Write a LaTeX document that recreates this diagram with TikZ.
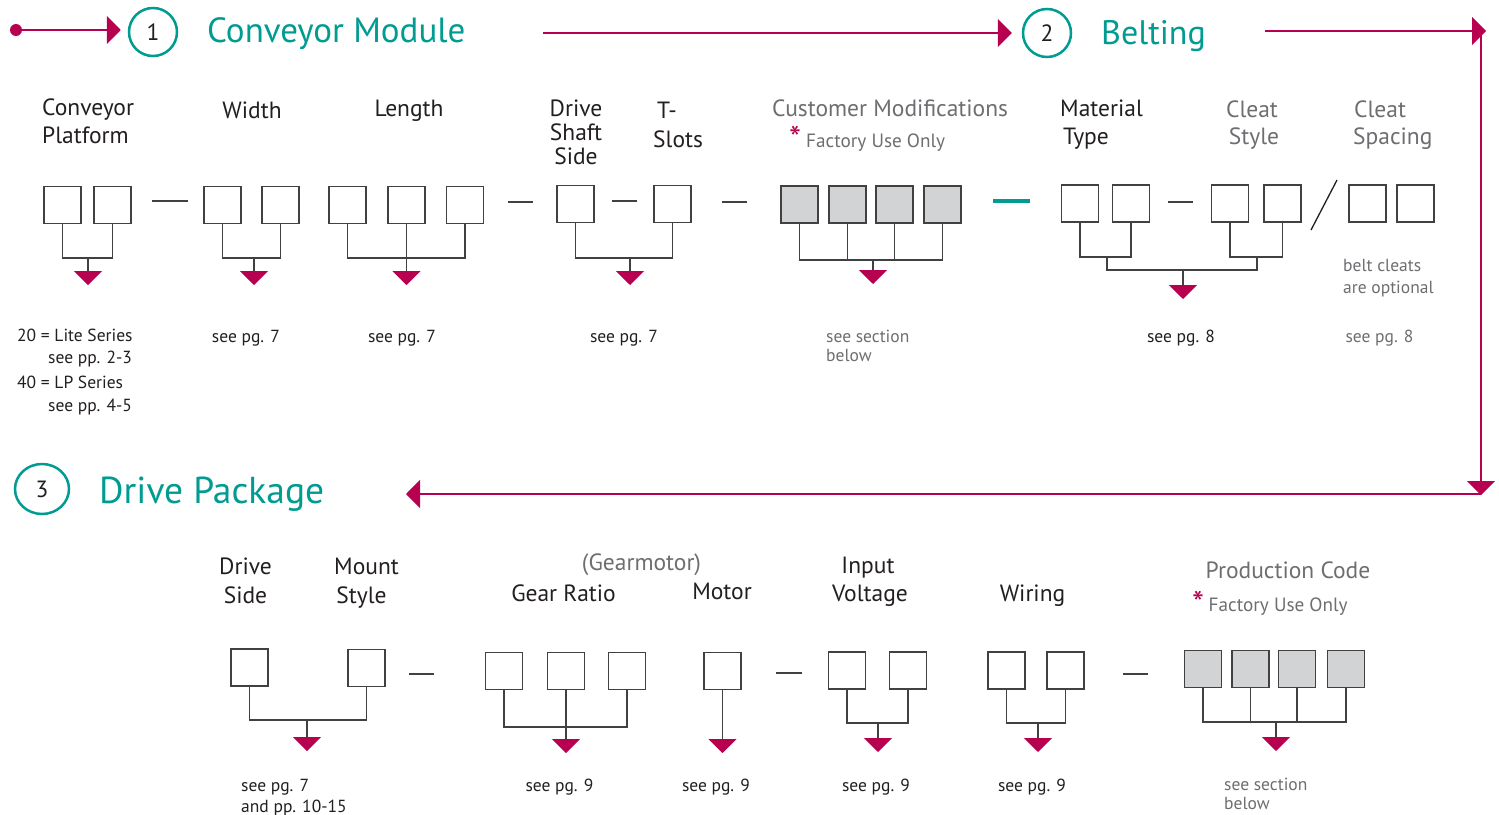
\documentclass[tikz,border=0pt]{standalone}
\usepackage{fontspec}
\setmainfont{PT Sans}
\usetikzlibrary{arrows.meta,calc,shapes.geometric}
\definecolor{teal1}{RGB}{0,156,145}
\definecolor{mag}{RGB}{184,0,80}
\definecolor{ink}{RGB}{35,31,32}
\definecolor{gry}{RGB}{109,110,113}
\definecolor{edge}{RGB}{65,64,66}
\definecolor{fillg}{RGB}{209,211,212}
\newcommand\ttlf{\fontsize{35}{40}\selectfont}
\newcommand\labf{\fontsize{23.5}{27}\selectfont}
\newcommand\notef{\fontsize{17.5}{21}\selectfont}
\newcommand\fuof{\fontsize{19.2}{23}\selectfont}
\newcommand\astf{\fontsize{34}{36}\selectfont}
\begin{document}
\begin{tikzpicture}[x=1pt,y=-1pt,
 box/.style={draw=edge,line width=1.6pt,minimum size=37pt,inner sep=0pt,outer sep=0pt,fill=white},
 gbox/.style={box,fill=fillg},
 brk/.style={draw=edge,line width=1.5pt},
 sepline/.style={draw=edge,line width=1.5pt},
 down/.style={draw=edge,line width=1.5pt,-{Triangle[width=28pt,length=14pt,color=mag]}},
 flow/.style={draw=mag,line width=2pt,-{Triangle[width=28pt,length=14pt]}},
 num/.style={circle,draw=teal1,line width=2.5pt,minimum size=48pt,inner sep=0pt,font=\labf,text=ink},
 ttl/.style={font=\ttlf,text=teal1,anchor=base west,inner sep=0pt},
 lab/.style={font=\labf,text=ink,anchor=base,inner sep=0pt},
 labw/.style={lab,anchor=base west},
 glab/.style={lab,text=gry},
 glabw/.style={labw,text=gry},
 note/.style={font=\notef,text=ink,anchor=base,inner sep=0pt},
 notew/.style={note,anchor=base west},
 gnote/.style={note,text=gry},
 gnotew/.style={notew,text=gry},
 fuo/.style={font=\fuof,text=gry,anchor=base west,inner sep=0pt},
 ast/.style={font=\astf,text=mag,anchor=base west,inner sep=0pt}
]
\fill[white] (0,0) rectangle (1499,814);
\useasboundingbox (0,0) rectangle (1499,814);

% ---------- section headers and flow ----------
\node[circle,fill=mag,inner sep=0pt,minimum size=12pt] (dot) at (16,30) {};
\node[num] (c1) at (153,32) {1};
\node[num] (c2) at (1047,33) {2};
\node[ellipse,draw=teal1,line width=2.5pt,minimum width=54pt,minimum height=50pt,inner sep=0pt,font=\labf,text=ink] (c3) at (42,489) {3};
\node[ttl] (t1) at (207,42) {Conveyor Module};
\node[ttl,font=\fontsize{34}{40}\selectfont] (t2) at (1101,44) {Belting};
\node[ttl,font=\fontsize{37.5}{42}\selectfont] (t3) at (99,503) {Drive Package};

\draw[flow,shorten >=7pt] (dot.center) -- (dot.center -| c1.west);
\coordinate (s2) at (543,33);
\draw[flow,shorten >=10pt] (s2) -- (s2 -| c2.west);
\coordinate (s3) at (1265,31);
\coordinate (e3) at (1486,31);
\coordinate (k1) at (1481,31);
\coordinate (k2) at (1481,495);
\coordinate (k3) at (1481,494);
\coordinate (e4) at (406,494);
\draw[flow] (s3) -- (e3);
\draw[flow] (k1) -- (k2);
\draw[flow] (k3) -- (e4);

% ---------- top labels ----------
\node[labw] (l1a) at (42,115) {Conveyor};
\node[labw] (l1b) at (42,143) {Platform};
\node[lab] (l2) at (252,118) {Width};
\node[lab] (l3) at (409,116) {Length};
\node[lab] (l4a) at (576,116) {Drive};
\node[lab] (l4b) at (576,140) {Shaft};
\node[lab] (l4c) at (576,164) {Side};
\node[labw] (l5a) at (657,118) {T-};
\node[labw] (l5b) at (653,147) {Slots};
\node[glabw] (l6) at (772,116) {Customer Modifications};
\node[ast] (a6) at (789,150.5) {*};
\node[fuo] (f6) at (806,147) {Factory Use Only};
\node[labw] (l7a) at (1060,116) {Material};
\node[labw] (l7b) at (1063,144) {Type};
\node[glab] (l8a) at (1252,117) {Cleat};
\node[glab] (l8b) at (1254,144) {Style};
\node[glabw] (l9a) at (1354,117) {Cleat};
\node[glabw] (l9b) at (1353,144) {Spacing};

% ---------- top boxes ----------
\node[box] (cp1) at (62.5,205) {};
\node[box] (cp2) at (112.5,205) {};
\draw[sepline] (152,201) -- (188,201);
\node[box] (w1) at (222.5,205) {};
\node[box] (w2) at (280.5,205) {};
\node[box] (g1) at (347.5,205) {};
\node[box] (g2) at (406.5,205) {};
\node[box] (g3) at (465,205) {};
\draw[sepline] (508,202) -- (533,202);
\node[box] (ds) at (575.5,204) {};
\draw[sepline] (612,201) -- (637,201);
\node[box] (ts) at (672.5,204) {};
\draw[sepline] (722,202) -- (747,202);
\node[gbox] (m1) at (799.5,204.5) {};
\node[gbox] (m2) at (847.5,204.5) {};
\node[gbox] (m3) at (894.5,204.5) {};
\node[gbox] (m4) at (942.5,204.5) {};
\draw[draw=teal1,line width=4.5pt] (993,201) -- (1030,201);
\node[box] (b1) at (1080,203.5) {};
\node[box] (b2) at (1131,203.5) {};
\draw[sepline] (1168,202) -- (1193,202);
\node[box] (b3) at (1230,203.5) {};
\node[box] (b4) at (1282.5,203.5) {};
\draw[draw=ink,line width=1.3pt] (1311,230) -- (1337,180);
\node[box] (b5) at (1367.5,203.5) {};
\node[box] (b6) at (1415.5,203.5) {};

% ---------- top brackets ----------
\coordinate (cpj) at (88,258);
\draw[brk] (cp1.south) |- (cpj) -| (cp2.south);
\draw[down] (cpj) -- ++(0,27);
\coordinate (wj) at (254,258);
\draw[brk] (w1.south) |- (wj) -| (w2.south);
\draw[down] (wj) -- ++(0,27);
\coordinate (gj) at (406.5,258);
\draw[brk] (g1.south) |- (gj) -| (g3.south);
\draw[down] (g2.south) -- ($(gj)+(0,27)$);
\coordinate (dtj) at (630,258);
\draw[brk] (ds.south) |- (dtj) -| (ts.south);
\draw[down] (dtj) -- ++(0,27);
\coordinate (mj) at (873,260);
\draw[brk] (m1.south) |- (mj) -| (m4.south);
\draw[brk] (m2.south) -- (m2.south |- mj);
\draw[brk] (m3.south) -- (m3.south |- mj);
\draw[down] (mj) -- ++(0,24);
\coordinate (bj1) at (1107,257);
\coordinate (bj2) at (1257,257);
\coordinate (bj) at (1183,270);
\draw[brk] (b1.south) |- (bj1) -| (b2.south);
\draw[brk] (b3.south) |- (bj2) -| (b4.south);
\draw[brk] (bj1) |- (bj) -| (bj2);
\draw[down] (bj) -- ++(0,29);

% ---------- top notes ----------
\node[notew] (n1a) at (17,341.5) {20 = Lite Series};
\node[notew] (n1b) at (48,363) {see pp. 2-3};
\node[notew] (n1c) at (17,388) {40 = LP Series};
\node[notew] (n1d) at (48,411.5) {see pp. 4-5};
\node[note] (n2) at (246,342.5) {see pg. 7};
\node[note] (n3) at (402,342) {see pg. 7};
\node[note] (n4) at (624,342.5) {see pg. 7};
\node[gnotew] (n5a) at (826,342) {see section};
\node[gnotew] (n5b) at (826,361.5) {below};
\node[note] (n6) at (1181,342.5) {see pg. 8};
\node[gnote] (n7) at (1379.5,342.5) {see pg. 8};
\node[gnotew] (n8a) at (1343,271.5) {belt cleats};
\node[gnotew] (n8b) at (1343,293) {are optional};

% ---------- bottom labels ----------
\node[lab] (d1a) at (245.5,574) {Drive};
\node[lab] (d1b) at (245.5,603) {Side};
\node[lab] (d2a) at (366.5,574) {Mount};
\node[lab] (d2b) at (361.5,603) {Style};
\node[glab] (d3a) at (641.5,570) {(Gearmotor)};
\node[lab] (d3b) at (563.5,601) {Gear Ratio};
\node[lab] (d4) at (722,599) {Motor};
\node[lab] (d5a) at (868,573) {Input};
\node[lab] (d5b) at (870,601) {Voltage};
\node[lab] (d6) at (1032.5,601) {Wiring};
\node[glab] (d7) at (1288,578) {Production Code};
\node[ast] (a7) at (1192,615) {*};
\node[fuo] (f7) at (1208.5,611.5) {Factory Use Only};

% ---------- bottom boxes ----------
\node[box] (ds1) at (249.5,667.5) {};
\node[box] (ms1) at (366.5,668) {};
\draw[sepline] (409,674) -- (434,674);
\node[box] (gr1) at (504,671) {};
\node[box] (gr2) at (566,671) {};
\node[box] (gr3) at (627,671) {};
\node[box] (mo) at (722.5,671) {};
\draw[sepline] (776,673) -- (802,673);
\node[box] (iv1) at (847,670.5) {};
\node[box] (iv2) at (908,670.5) {};
\node[box] (wi1) at (1006.5,670.5) {};
\node[box] (wi2) at (1065.5,670.5) {};
\draw[sepline] (1123,674) -- (1148,674);
\node[gbox] (p1) at (1203,669) {};
\node[gbox] (p2) at (1250.5,669) {};
\node[gbox] (p3) at (1297,669) {};
\node[gbox] (p4) at (1346,669) {};

% ---------- bottom brackets ----------
\coordinate (dmj) at (307,720);
\draw[brk] (ds1.south) |- (dmj) -| (ms1.south);
\draw[down] (dmj) -- ++(0,31);
\coordinate (grj) at (566,727);
\draw[brk] (gr1.south) |- (grj) -| (gr3.south);
\draw[down] (gr2.south) -- ($(grj)+(0,26)$);
\coordinate (mot) at (722.5,753);
\draw[down] (mo.south) -- (mot);
\coordinate (ivj) at (878,723);
\draw[brk] (iv1.south) |- (ivj) -| (iv2.south);
\draw[down] (ivj) -- ++(0,29);
\coordinate (wij) at (1038,723);
\draw[brk] (wi1.south) |- (wij) -| (wi2.south);
\draw[down] (wij) -- ++(0,29);
\coordinate (pj) at (1276,722);
\draw[brk] (p1.south) |- (pj) -| (p4.south);
\draw[brk] (p2.south) -- (p2.south |- pj);
\draw[brk] (p3.south) -- (p3.south |- pj);
\draw[down] (pj) -- ++(0,29);

% ---------- bottom notes ----------
\node[notew] (e1a) at (241,791) {see pg. 7};
\node[notew] (e1b) at (241,812) {and pp. 10-15};
\node[note] (e2) at (559.5,791) {see pg. 9};
\node[note] (e3n) at (716,791) {see pg. 9};
\node[note] (e4n) at (876,791) {see pg. 9};
\node[note] (e5) at (1032,791) {see pg. 9};
\node[gnotew] (e6a) at (1224,790) {see section};
\node[gnotew] (e6b) at (1224,809) {below};
\end{tikzpicture}
\end{document}
